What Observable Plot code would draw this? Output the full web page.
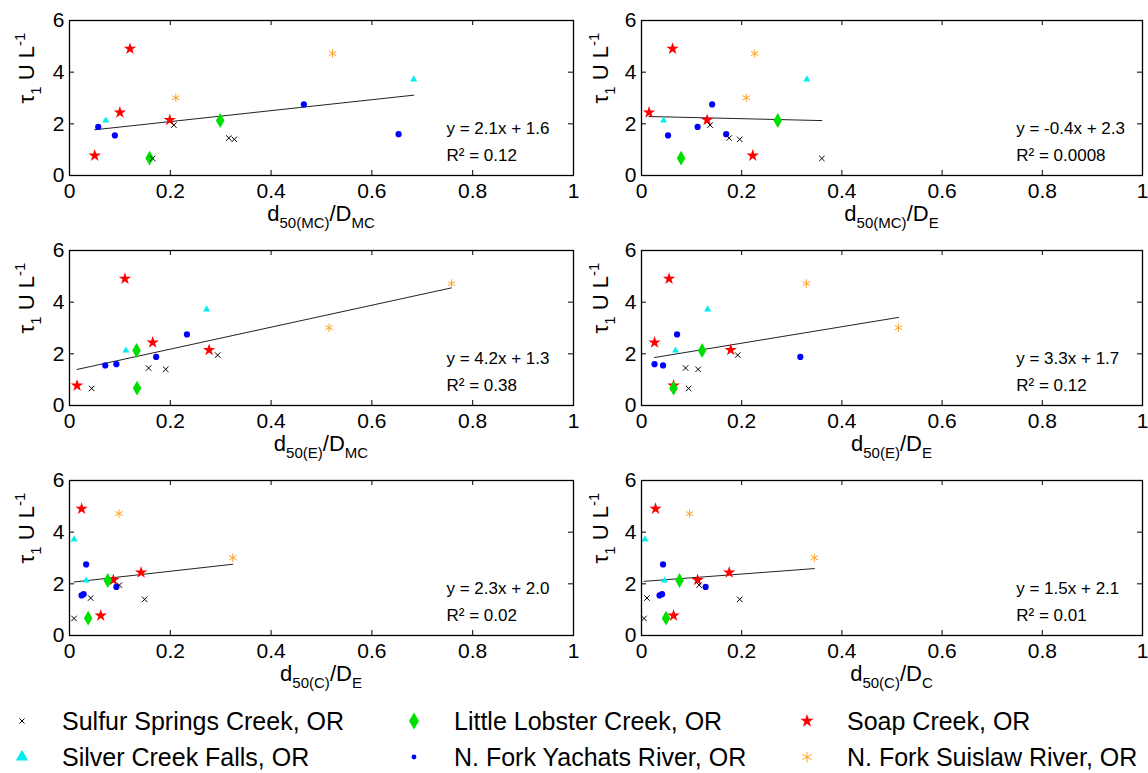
<!DOCTYPE html>
<html><head><meta charset="utf-8">
<script src="https://cdn.jsdelivr.net/npm/d3@7"></script>
<script src="https://cdn.jsdelivr.net/npm/@observablehq/plot@0.6"></script>
<style>
html,body{margin:0;padding:0;background:#fff;}
#chart{position:relative;width:1148px;height:773px;font-family:"Liberation Sans",Arial,sans-serif;}
#chart svg{position:absolute;overflow:visible;}
</style></head><body><div id="chart"></div>
<script>
// ---- data ----
const sites = ["Sulfur Springs Creek, OR","Little Lobster Creek, OR","Soap Creek, OR","Silver Creek Falls, OR","N. Fork Yachats River, OR","N. Fork Suislaw River, OR"];
// tau1 U L^-1 for each site (same in every panel)
const tauSulfur  = [0.66, 1.95, 1.45, 1.40];
const tauLobster = [0.67, 2.13];
const tauSoap    = [0.77, 2.44, 4.91, 2.15];
const tauSilver  = [2.13, 3.72];
const tauYachats = [1.88, 1.55, 2.75, 1.60];
const tauSuislaw = [3.01, 4.72];
// x values per panel, in site order [sulfur, lobster, soap, silver, yachats, suislaw]
const xMC_MC = [[0.165,0.207,0.316,0.327],[0.159,0.299],[0.050,0.100,0.120,0.199],[0.072,0.683],[0.057,0.090,0.465,0.653],[0.211,0.522]];
const xMC_E  = [[0.360,0.137,0.175,0.196],[0.079,0.272],[0.222,0.015,0.062,0.131],[0.044,0.330],[0.112,0.053,0.141,0.169],[0.209,0.226]];
const xE_MC  = [[0.044,0.294,0.157,0.191],[0.134,0.133],[0.015,0.165,0.110,0.277],[0.112,0.272],[0.172,0.071,0.233,0.093],[0.515,0.758]];
const xE_E   = [[0.094,0.192,0.088,0.113],[0.064,0.121],[0.064,0.026,0.055,0.178],[0.068,0.132],[0.317,0.043,0.071,0.026],[0.513,0.329]];
const xC_E   = [[0.009,0.099,0.042,0.149],[0.037,0.076],[0.062,0.142,0.024,0.087],[0.033,0.009],[0.093,0.024,0.033,0.028],[0.324,0.098]];
const xC_C   = [[0.005,0.115,0.011,0.196],[0.049,0.076],[0.064,0.175,0.028,0.112],[0.046,0.007],[0.128,0.036,0.043,0.041],[0.345,0.096]];
const labelSub = ["50(MC)","50(MC)","50(E)","50(E)","50(C)","50(C)"];
const labelDen = ["MC","E","MC","E","E","C"];
const equations = ["y = 2.1x + 1.6","y = -0.4x + 2.3","y = 4.2x + 1.3","y = 3.3x + 1.7","y = 2.3x + 2.0","y = 1.5x + 2.1"];
const r2Values = ["0.12","0.0008","0.38","0.12","0.02","0.01"];
const xTicks = [0,0.2,0.4,0.6,0.8,1];
const yTicks = [0,2,4,6];

// ---- styles ----
const tauAll = [tauSulfur,tauLobster,tauSoap,tauSilver,tauYachats,tauSuislaw];
const panelX = [xMC_MC,xMC_E,xE_MC,xE_E,xC_E,xC_C];
const siteStyle = [
  {symbol:"times", r:2.6, stroke:"#000", fill:"none", sw:1},
  {symbol:"diamond", r:4.5, fill:"#00e000"},
  {symbol:"star", r:3.9, fill:"#ff0000"},
  {symbol:"triangle", r:2.6, fill:"#00eeee"},
  {symbol:"circle", r:3.1, fill:"#0000ff"},
  {symbol:"asterisk", r:4, stroke:"#ffa020", fill:"none", sw:1}
];
const drawOrder = [2,3,4,1,5,0];
const FONT = '"Liberation Sans",Arial,sans-serif';

const chart = d3.select("#chart");
panelX.forEach((px, i) => {
  const col = i % 2, row = Math.floor(i / 2);
  const mL = col === 0 ? 69 : 67, mR = col === 0 ? 1 : 6;
  const W = 574, H = 230, mT = 20, mB = 55;
  const pw = W - mL - mR, ph = H - mT - mB;
  const data = [];
  drawOrder.forEach(s => tauAll[s].forEach((t, k) => data.push({site: s, x: px[s][k], y: t})));
  const dotMarks = drawOrder.map(s => {
    const st = siteStyle[s];
    return Plot.dot(data.filter(d => d.site === s), {x:"x", y:"y", symbol: st.symbol, r: st.r, fill: st.fill, stroke: st.stroke || "none", strokeWidth: st.sw || 0});
  });
  const svg = Plot.plot({
    width: W, height: H, marginTop: mT, marginBottom: mB, marginLeft: mL, marginRight: mR,
    x: {domain: [0, 1]}, y: {domain: [0, 6]},
    style: {fontFamily: FONT, fontSize: "21px", color: "#000", background: "transparent", overflow: "visible"},
    marks: [
      Plot.axisX({ticks: xTicks, tickSize: 0, tickPadding: 8, label: null, tickFormat: d => String(d), fontSize: 21}),
      Plot.axisY({ticks: yTicks, tickSize: 0, tickPadding: 5, label: null, tickFormat: d => String(d), fontSize: 21}),
      Plot.tickX(xTicks, {x: d => d, insetTop: ph - 5, stroke: "#000"}),
      Plot.tickX(xTicks, {x: d => d, insetBottom: ph - 5, stroke: "#000"}),
      Plot.tickY(yTicks, {y: d => d, insetRight: pw - 5, stroke: "#000"}),
      Plot.tickY(yTicks, {y: d => d, insetLeft: pw - 5, stroke: "#000"}),
      Plot.linearRegressionY(data, {x: "x", y: "y", ci: 0, stroke: "#222", strokeWidth: 1}),
      ...dotMarks,
      Plot.text([equations[i]], {x: 0.748, y: 1.82, text: d => d, textAnchor: "start", fontSize: 17, fill: "#000"}),
      Plot.text([r2Values[i]], {x: 0.748, y: 0.76, text: d => "R\u00B2 = " + d, textAnchor: "start", fontSize: 17, fill: "#000"}),
      Plot.frame({stroke: "#000", strokeWidth: 1.3})
    ]
  });
  const s = d3.select(svg).style("left", (col * 574) + "px").style("top", (row * 230) + "px");
  // x label
  const xl = s.append("text").attr("x", mL + pw / 2).attr("y", 221).attr("text-anchor", "middle")
    .attr("font-family", FONT).attr("font-size", 22).attr("fill", "#000");
  xl.append("tspan").text("d");
  xl.append("tspan").attr("dy", 7).attr("font-size", 15).text(labelSub[i]);
  xl.append("tspan").attr("dy", -7).text("/D");
  xl.append("tspan").attr("dy", 7).attr("font-size", 15).text(labelDen[i]);
  // y label
  const yl = s.append("text").attr("transform", `translate(34,68) rotate(-90)`).attr("text-anchor", "middle")
    .attr("font-family", FONT).attr("font-size", 22).attr("fill", "#000");
  yl.append("tspan").text("\u03C4");
  yl.append("tspan").attr("dy", 7).attr("font-size", 15).text("1");
  yl.append("tspan").attr("dy", -7).text(" U L");
  yl.append("tspan").attr("dy", -9).attr("font-size", 15).text("-1");
  chart.node().appendChild(svg);
});

// ---- legend ----
const legendOrder = [0,1,2,3,4,5];
const legSymX = [22, 414, 807], legTextX = [62, 454, 847], legY = [721, 757];
const legSize = [{r:2.4},{r:5.2},{r:4.2},{r:4.6},{r:2.4},{r:5}];
const symMap = {times: d3.symbolTimes, diamond: d3.symbolDiamond, star: d3.symbolStar, triangle: d3.symbolTriangle, circle: d3.symbolCircle, asterisk: d3.symbolAsterisk};
const leg = chart.append("svg").attr("width", 1148).attr("height", 773).style("left", "0px").style("top", "0px");
legendOrder.forEach((s, j) => {
  const c = j % 3, r = Math.floor(j / 3);
  const st = siteStyle[s];
  const r0 = legSize[s].r;
  leg.append("path").attr("d", d3.symbol(symMap[st.symbol], Math.PI * r0 * r0)())
    .attr("transform", `translate(${legSymX[c]},${legY[r]})`)
    .attr("fill", st.fill).attr("stroke", st.stroke || "none").attr("stroke-width", st.sw || 0);
  leg.append("text").attr("x", legTextX[c]).attr("y", legY[r]).attr("dy", "0.35em")
    .attr("font-family", FONT).attr("font-size", 25).attr("fill", "#000").text(sites[s]);
});
</script></body></html>
